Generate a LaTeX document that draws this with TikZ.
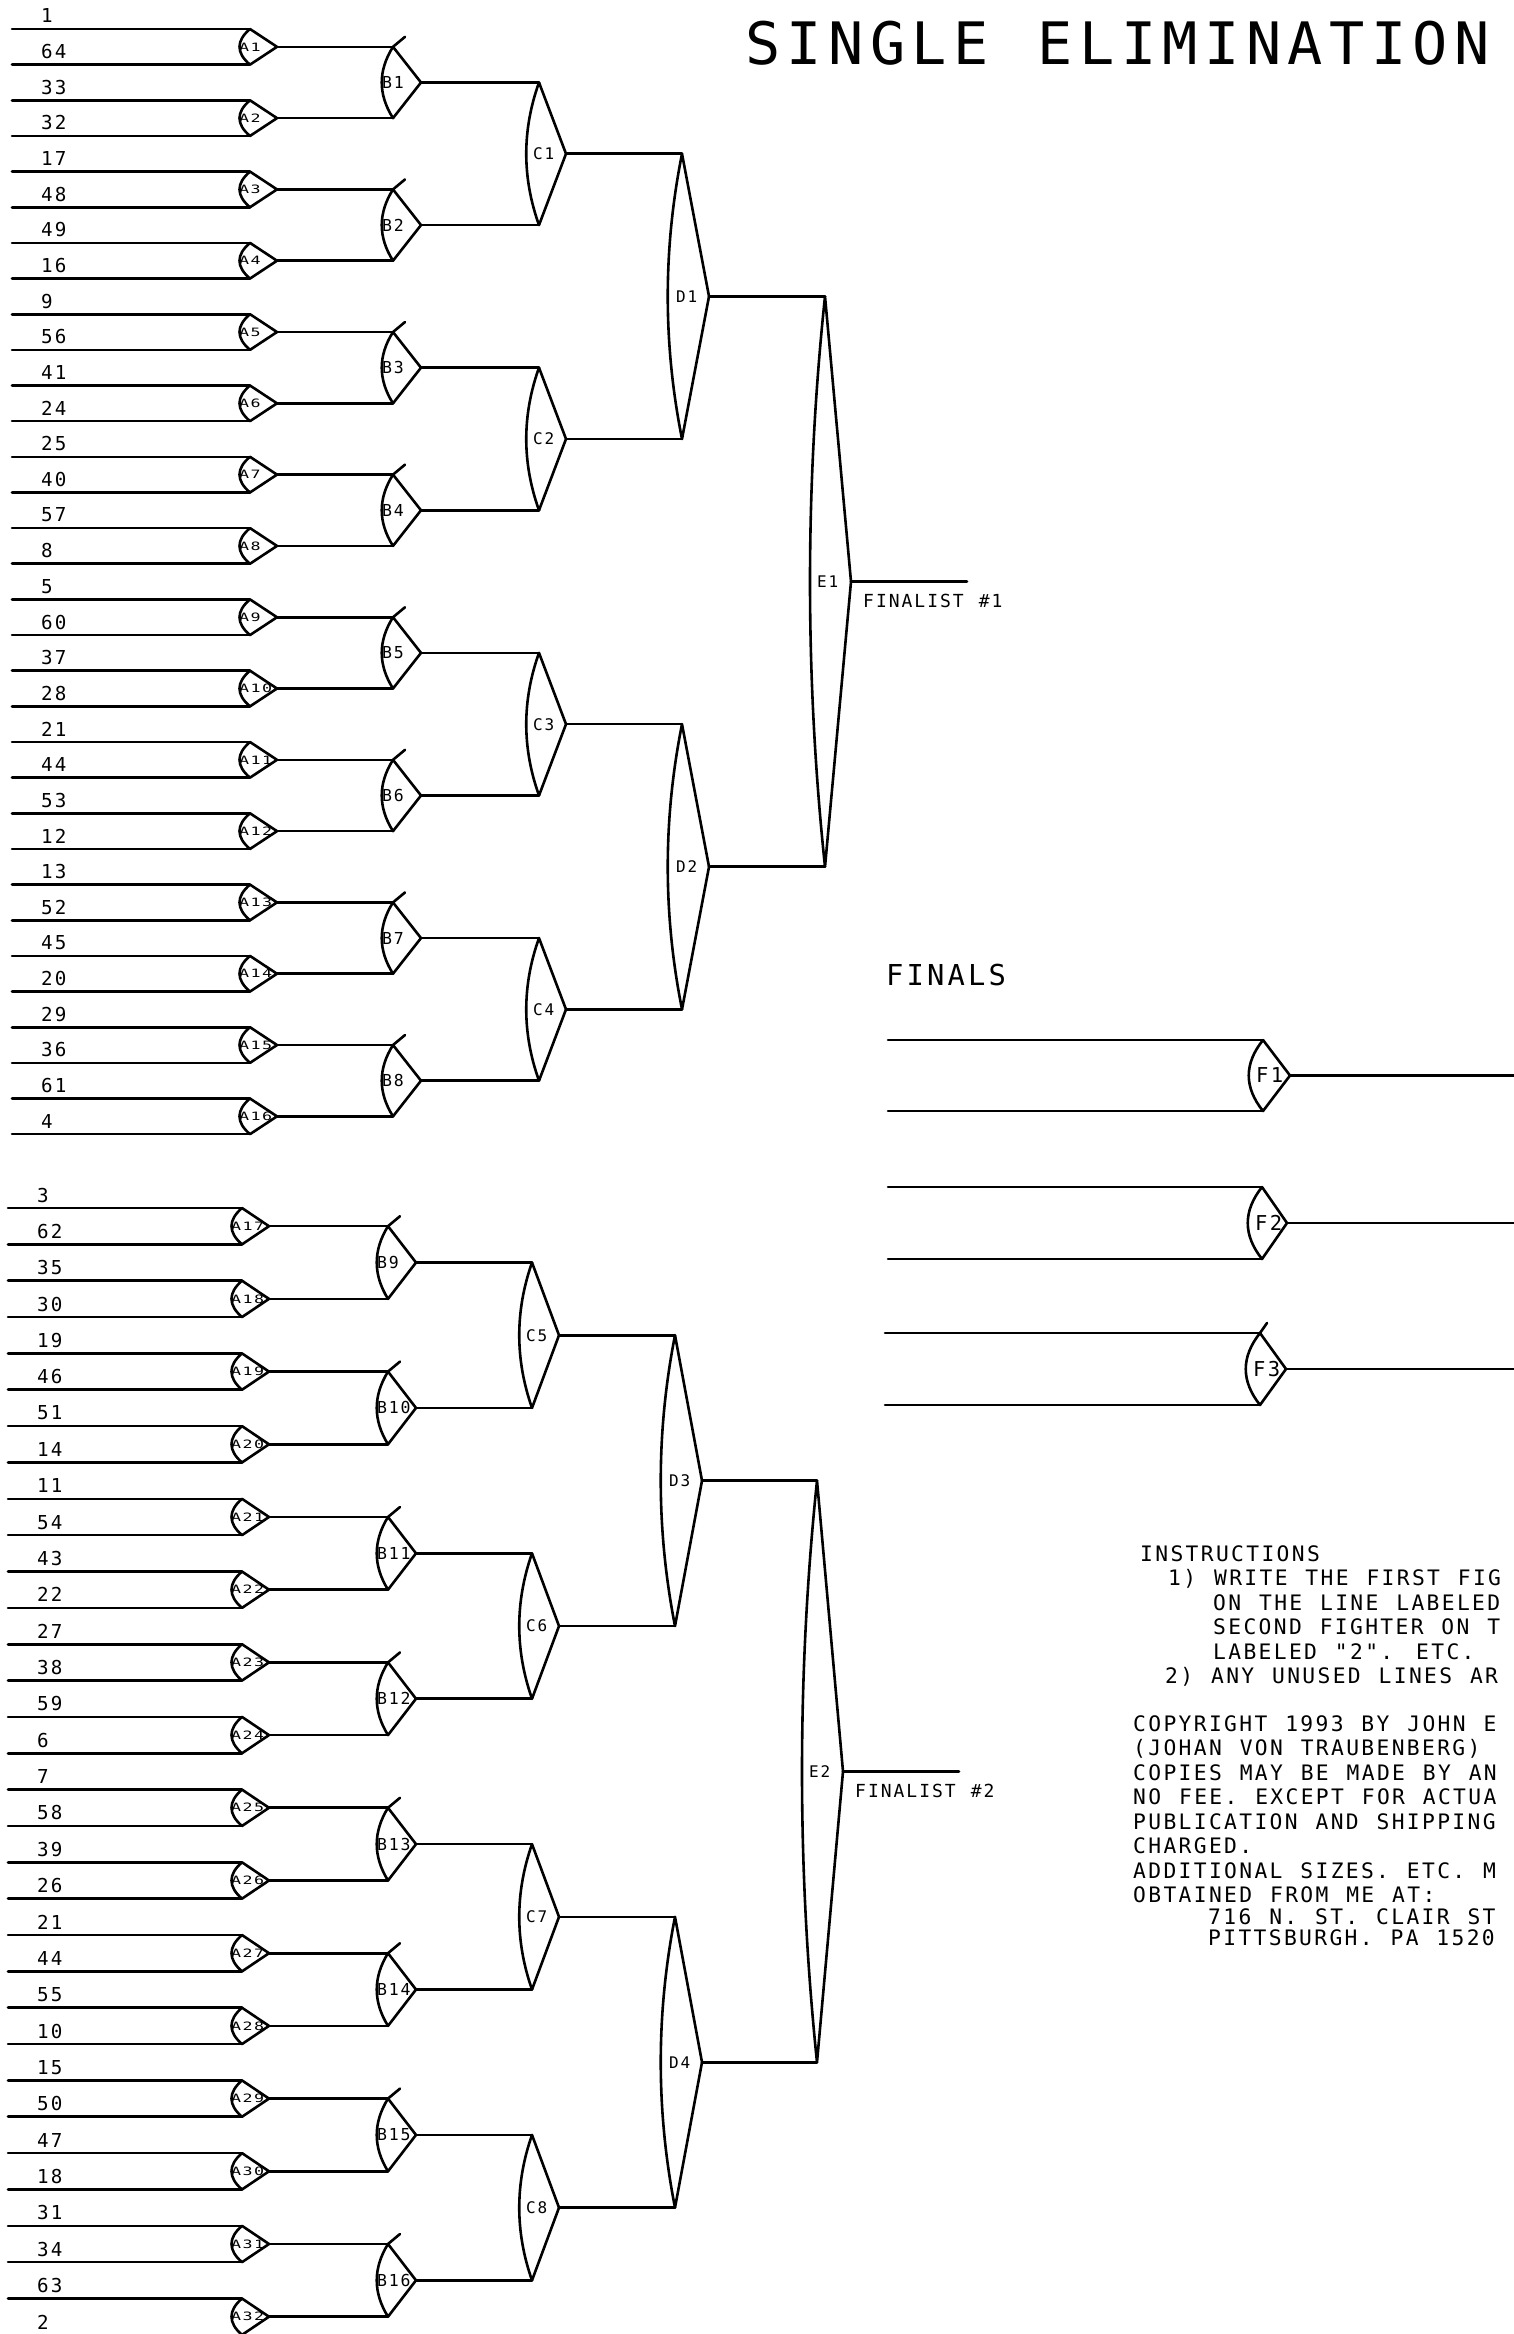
\documentclass[tikz,border=0pt]{standalone}
\usepackage{fontspec}
\usetikzlibrary{calc}
\newfontfamily\plotfont[LetterSpace=11,WordSpace=1.18]{DejaVu Sans Mono}
\newfontfamily\tagfont[FakeStretch=1.45,LetterSpace=12]{DejaVu Sans Mono}

% one bout: name, x of the mouth, upper and lower feeder, reach of the tip, bulge, label style
\newcommand{\bout}[7]{%
  \coordinate (#1t) at (#2,0 |- #3);
  \coordinate (#1b) at (#2,0 |- #4);
  \coordinate (#1) at ($(#1t)!.5!(#1b)+(#5,0)$);
  \draw[wire] (#3) -- (#1t);
  \draw[wire] (#4) -- (#1b);
  \draw[gate] (#1t) -- (#1) -- (#1b)
    .. controls ($(#1b)!1/3!(#1t)+(-#6,0)$) and ($(#1b)!2/3!(#1t)+(-#6,0)$) .. (#1t);
  \node[#7] (#1l) at ($(#1t)!.5!(#1b)+(-7,0)$) {#1};
}

\begin{document}
\begin{tikzpicture}[x=1pt,y=-1pt,
  wire/.style={line width=2.6pt,line cap=round},
  gate/.style={line width=2.6pt,line cap=round,line join=round},
  plain/.style={inner sep=0pt,anchor=west},
  seed/.style={plain,font=\plotfont\fontsize{19.2}{20}\selectfont},
  tagA/.style={plain,font=\tagfont\fontsize{11.5}{12}\selectfont,xshift=-4pt},
  tagB/.style={plain,font=\plotfont\fontsize{16.5}{17}\selectfont,xshift=-4pt},
  tagC/.style={plain,font=\plotfont\fontsize{16}{17}\selectfont,xshift=1pt},
  tagE/.style={plain,font=\plotfont\fontsize{16}{17}\selectfont,xshift=-1pt},
  tagF/.style={plain,font=\plotfont\fontsize{20.5}{21}\selectfont},
  fin/.style={plain,font=\plotfont\fontsize{18}{19}\selectfont},
  note/.style={inner sep=0pt,anchor=north west,align=left,
    font=\plotfont\fontsize{21.3}{24.5}\selectfont}]
\useasboundingbox (0,0) rectangle (1513,2334);

\node[plain,font=\plotfont\fontsize{58.5}{60}\selectfont] (title) at (745,43) {SINGLE ELIMINATION};

% seed lines
\foreach \s [count=\i] in {1,64,33,32,17,48,49,16,9,56,41,24,25,40,57,8,
    5,60,37,28,21,44,53,12,13,52,45,20,29,36,61,4,
    3,62,35,30,19,46,51,14,11,54,43,22,27,38,59,6,
    7,58,39,26,21,44,55,10,15,50,47,18,31,34,63,2}{
  \pgfmathsetmacro\yy{\i<33 ? 29+35.65*(\i-1) : 1208+36.35*(\i-33)}
  \pgfmathsetmacro\xx{\i<33 ? 0 : -4}
  \coordinate (s\i) at (12+\xx,\yy);
  \node[seed] (n\i) at (41+\xx,\yy-13) {\s};
}

% rounds
\foreach \q in {1,...,32}{
  \pgfmathtruncatemacro\ua{2*\q-1}
  \pgfmathtruncatemacro\va{2*\q}
  \pgfmathsetmacro\dx{\q>16 ? -8 : 0}
  \bout{A\q}{250+\dx}{s\ua}{s\va}{27}{14}{tagA}
}
\foreach \q in {1,...,16}{
  \pgfmathtruncatemacro\ua{2*\q-1}
  \pgfmathtruncatemacro\va{2*\q}
  \pgfmathsetmacro\dx{\q>8 ? -5 : 0}
  \bout{B\q}{393+\dx}{A\ua}{A\va}{28}{15}{tagB}
  \draw[gate] (B\q t) -- ++(12,-10);
}
\foreach \q in {1,...,8}{
  \pgfmathtruncatemacro\ua{2*\q-1}
  \pgfmathtruncatemacro\va{2*\q}
  \pgfmathsetmacro\dx{\q>4 ? -7 : 0}
  \bout{C\q}{539+\dx}{B\ua}{B\va}{27}{17}{tagC}
}
\foreach \q in {1,...,4}{
  \pgfmathtruncatemacro\ua{2*\q-1}
  \pgfmathtruncatemacro\va{2*\q}
  \pgfmathsetmacro\dx{\q>2 ? -7 : 0}
  \bout{D\q}{682+\dx}{C\ua}{C\va}{27}{19}{tagC}
}
\foreach \q in {1,2}{
  \pgfmathtruncatemacro\ua{2*\q-1}
  \pgfmathtruncatemacro\va{2*\q}
  \pgfmathsetmacro\dx{\q>1 ? -8 : 0}
  \bout{E\q}{825+\dx}{D\ua}{D\va}{26}{20}{tagE}
  \coordinate (E\q o) at ($(E\q)+(116,0)$);
  \draw[wire] (E\q) -- (E\q o);
  \node[fin] (fin\q) at ($(E\q)+(12,19)$) {FINALIST \#\q};
}

% finals
\node[plain,font=\plotfont\fontsize{28.8}{30}\selectfont] (finals) at (886,975) {FINALS};
\coordinate (F1u) at (888,1040);
\coordinate (F1d) at (888,1111);
\coordinate (F2u) at (888,1187);
\coordinate (F2d) at (888,1259);
\coordinate (F3u) at (885,1333);
\coordinate (F3d) at (885,1405);
\bout{F1}{1263}{F1u}{F1d}{27}{19}{tagF}
\bout{F2}{1262}{F2u}{F2d}{25}{19}{tagF}
\bout{F3}{1260}{F3u}{F3d}{26}{19}{tagF}
\draw[gate] (F3t) -- ++(7,-10);
\foreach \q in {1,2,3}{
  \coordinate (F\q o) at (1520,0 |- F\q);
  \draw[wire] (F\q) -- (F\q o);
}

% notes
\node[note] (instr) at (1140,1545) {INSTRUCTIONS\\
  \hspace*{28pt}1) WRITE THE FIRST FIG\\
  \hspace*{73pt}ON THE LINE LABELED\\
  \hspace*{73pt}SECOND FIGHTER ON T\\
  \hspace*{73pt}LABELED "2". ETC.\\
  \hspace*{25pt}2) ANY UNUSED LINES AR};
\node[note] (copy) at (1133,1715) {COPYRIGHT 1993 BY JOHN E\\
  (JOHAN VON TRAUBENBERG)\\
  COPIES MAY BE MADE BY AN\\
  NO FEE. EXCEPT FOR ACTUA\\
  PUBLICATION AND SHIPPING\\
  CHARGED.\\
  ADDITIONAL SIZES. ETC. M\\
  OBTAINED FROM ME AT:\\[-3pt]
  \hspace*{75pt}716 N. ST. CLAIR ST\\[-3pt]
  \hspace*{75pt}PITTSBURGH. PA 1520};
\end{tikzpicture}
\end{document}
